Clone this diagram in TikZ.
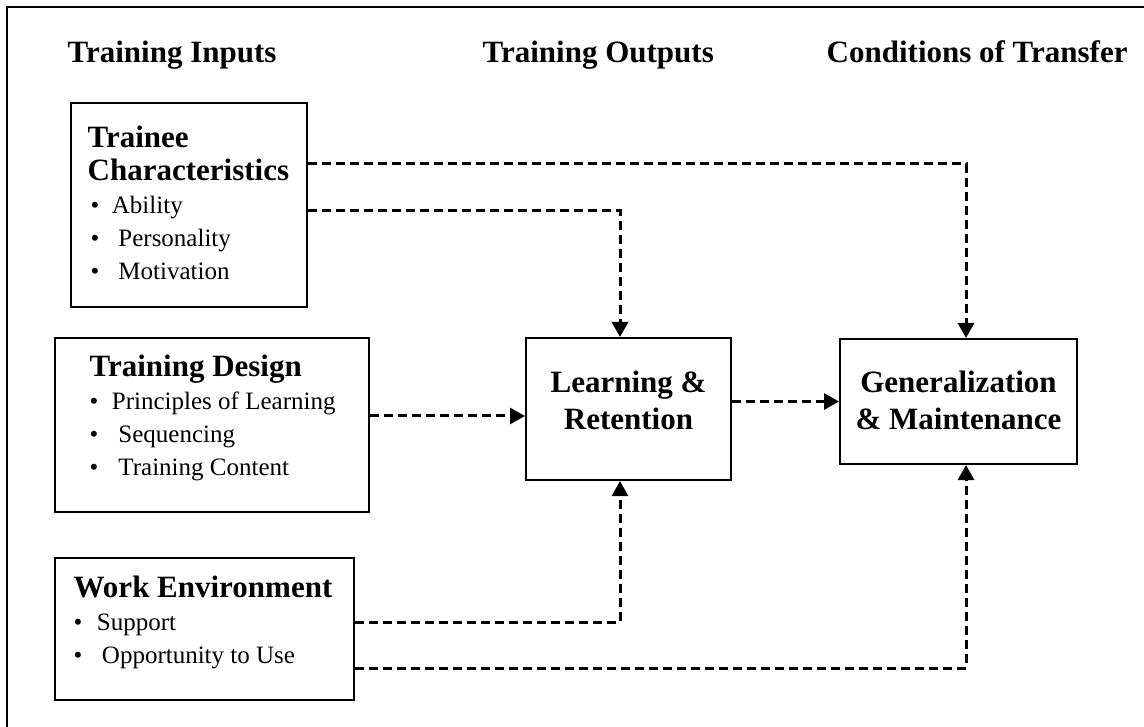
\documentclass[tikz,border=0pt]{standalone}
\usepackage{fontspec}
\setmainfont{Liberation Serif}
\usetikzlibrary{arrows.meta,calc}

\newcommand{\bul}[1]{\textbullet\hspace{#1}}
\newcommand{\ttl}[1]{{\bfseries\fontsize{31}{33}\selectfont #1}}

\begin{document}
\begin{tikzpicture}[x=1pt,y=-1pt,
    box/.style={draw,line width=2pt,anchor=north west,inner sep=0pt},
    head/.style={anchor=base west,inner sep=0pt,font=\fontsize{31}{37}\selectfont\bfseries},
    boxtext/.style={anchor=base west,inner sep=0pt,font=\fontsize{25}{33}\selectfont},
    midtext/.style={anchor=base,inner sep=0pt,font=\fontsize{31}{37}\selectfont\bfseries},
    link/.style={line width=3pt,dash pattern=on 9pt off 5pt,-{Triangle[length=15pt,width=16pt]}}]
    \useasboundingbox (0,0) rectangle (1144,727);

    % frame
    \draw[line width=2.5pt] (7,730) -- (7,7) -- (1150,7);

    % column titles
    \node[head] (hinputs) at (67.5,63) {Training Inputs};
    \node[head] (houtputs) at (482.5,63) {Training Outputs};
    \node[head] (htransfer) at (826.5,63) {Conditions of Transfer};

    % boxes
    \node[box,minimum width=236pt,minimum height=204pt] (trainee) at (70,102) {};
    \node[box,minimum width=314pt,minimum height=174pt] (design) at (54,337) {};
    \node[box,minimum width=299pt,minimum height=142pt] (work) at (54,557) {};
    \node[box,minimum width=205pt,minimum height=142pt] (learn) at (525,337) {};
    \node[box,minimum width=237pt,minimum height=125pt] (gen) at (839,338) {};

    % box texts
    \node[boxtext] (traineetxt) at (87.5,148) {\begin{tabular}[t]{@{}l@{}}
        \ttl{Trainee}\\
        \ttl{Characteristics}\\
        \hspace{3pt}\bul{12.5pt}Ability\\
        \hspace{3pt}\bul{19pt}Personality\\
        \hspace{3pt}\bul{19pt}Motivation
      \end{tabular}};
    \node[boxtext] (designtxt) at (89.5,377) {\begin{tabular}[t]{@{}l@{}}
        \ttl{Training Design}\\
        \bul{13.5pt}Principles of Learning\\
        \bul{20pt}Sequencing\\
        \bul{20pt}Training Content
      \end{tabular}};
    \node[boxtext] (worktxt) at (73.5,597) {\begin{tabular}[t]{@{}l@{}}
        \ttl{Work Environment}\\
        \bul{14.5pt}Support\\
        \bul{19.5pt}Opportunity to Use
      \end{tabular}};
    \node[midtext] (learntxt) at ($(learn.north)+(0,56)$) {\begin{tabular}[t]{@{}c@{}}
        Learning \&\\ Retention\end{tabular}};
    \node[midtext] (gentxt) at ($(gen.north)+(0,55)$) {\begin{tabular}[t]{@{}c@{}}
        Generalization\\ \& Maintenance\end{tabular}};

    % connector ends
    \coordinate (t1) at ($(trainee.north east)+(0,62)$);
    \coordinate (t2) at ($(trainee.north east)+(0,109)$);
    \coordinate (d1) at ($(design.north east)+(0,79)$);
    \coordinate (w1) at ($(work.north east)+(0,65)$);
    \coordinate (w2) at ($(work.north east)+(0,111)$);
    \coordinate (lin) at ($(learn.north west)+(95,0)$);
    \coordinate (lout) at ($(learn.south west)+(95,0)$);
    \coordinate (gin) at ($(gen.north west)+(127,0)$);
    \coordinate (gout) at ($(gen.south west)+(127,0)$);

    \draw[link] (t1) -| (gin);
    \draw[link] (t2) -| (lin);
    \draw[link] (d1) -- (d1 -| learn.west);
    \draw[link] (w1) -| (lout);
    \draw[link] (w2) -| (gout);
    \draw[link] (gen.west -| learn.east) -- (gen.west);

  \end{tikzpicture}
\end{document}
